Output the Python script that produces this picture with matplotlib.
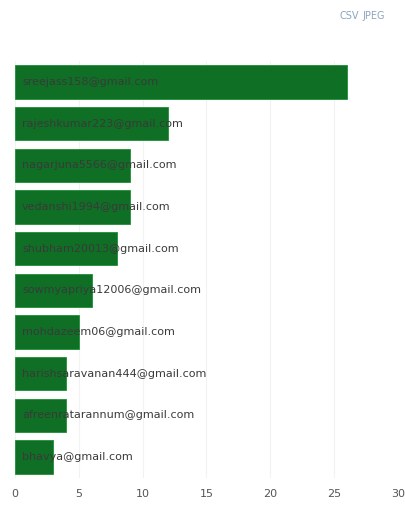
import matplotlib
matplotlib.use("Agg")
import matplotlib.pyplot as plt

emails = [
    "sreejass158@gmail.com",
    "rajeshkumar223@gmail.com",
    "nagarjuna5566@gmail.com",
    "vedanshi1994@gmail.com",
    "shubham20013@gmail.com",
    "sowmyapriya12006@gmail.com",
    "mohdazeem06@gmail.com",
    "harishsaravanan444@gmail.com",
    "afreenratarannum@gmail.com",
    "bhavya@gmail.com",
]
counts = [26, 12, 9, 9, 8, 6, 5, 4, 4, 3]
xticks = [0, 5, 10, 15, 20, 25, 30]

W, H = 406, 508
fig = plt.figure(figsize=(W / 100, H / 100), dpi=100)
fig.patch.set_facecolor("white")
left, right, top, bottom = 15, 398, 61, 478
ax = fig.add_axes([left / W, 1 - bottom / H, (right - left) / W, (bottom - top) / H])

y = list(range(len(emails)))
ax.barh(y, counts, height=0.8, color="#0f6f25", edgecolor="#1c9037", linewidth=0.6, zorder=2)
for yi, e in zip(y, emails):
    ax.text(0.55, yi, e, va="center", ha="left", fontsize=8, color="#3a3a3a", zorder=3)

ax.set_xlim(0, 30)
ax.set_ylim(len(emails) - 0.5, -0.5)
ax.set_xticks(xticks)
ax.set_xticklabels([str(t) for t in xticks])
ax.set_yticks([])
ax.tick_params(axis="x", length=0, labelsize=8, colors="#555555", pad=8)
ax.grid(axis="x", color="#f2f2f2", linewidth=0.8, zorder=0)
for s in ax.spines.values():
    s.set_visible(False)

fig.text(340 / W, 1 - 16 / H, "CSV", fontsize=7, color="#8ea4c0", ha="left", va="center")
fig.text(362 / W, 1 - 16 / H, "JPEG", fontsize=7, color="#8ea4c0", ha="left", va="center")

fig.savefig("out.png", dpi=100, facecolor="white")
